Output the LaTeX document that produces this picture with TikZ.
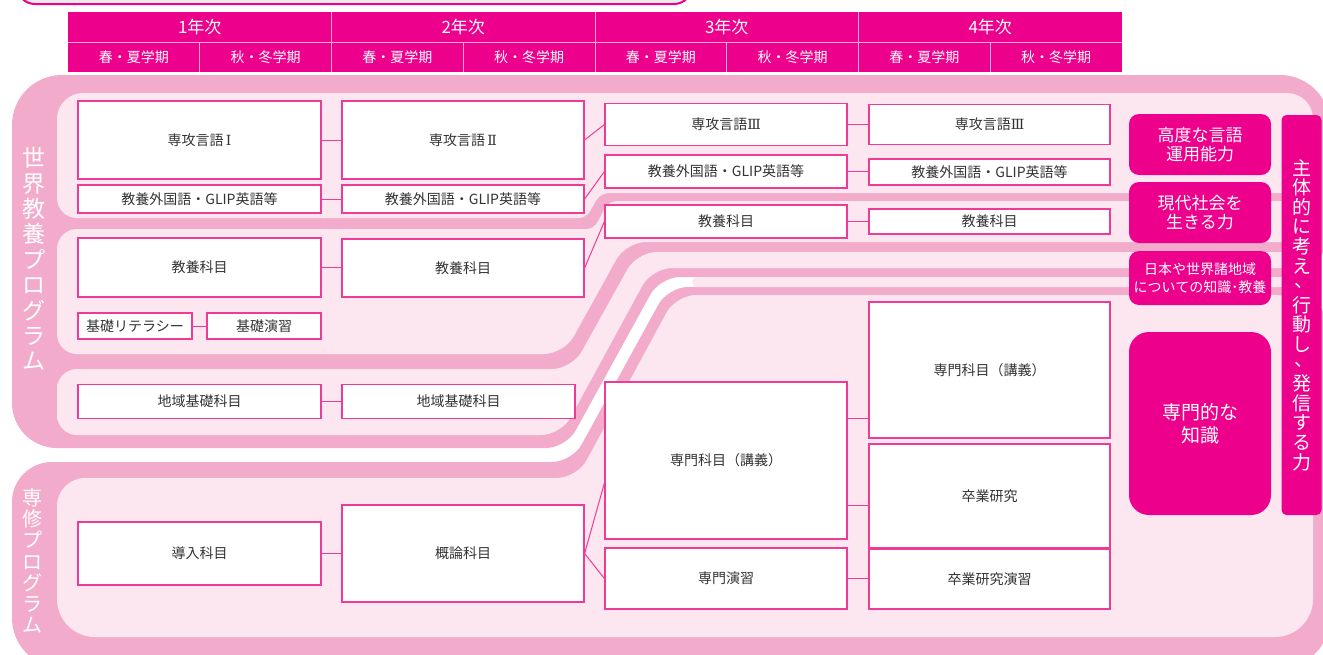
\documentclass[tikz,border=0pt]{standalone}
\usepackage{fontspec}
\setmainfont{Noto Sans CJK JP}
\newfontfamily\romanfont{DejaVu Serif}
\usetikzlibrary{positioning,calc}

\definecolor{mag}{HTML}{EC008C}
\definecolor{boxline}{HTML}{EE3B95}
\definecolor{bandpink}{HTML}{F3ABCB}
\definecolor{panelpink}{HTML}{FCE7F1}
\definecolor{hdrline}{HTML}{F7A9D0}
\definecolor{textgray}{HTML}{333333}

\newcommand{\vcomma}{\raisebox{5pt}{\hspace{4pt}、}}

\begin{document}
\begin{tikzpicture}[
    x=1pt, y=-1pt,
    subject/.style = {rectangle, draw=boxline, fill=white, line width=1.2pt, inner sep=0pt, text=textgray, font=\fontsize{14}{16}\selectfont},
    skill/.style = {rectangle, fill=mag, rounded corners=10pt, minimum width=142pt, inner sep=0pt, text=white, align=center},
    yearcell/.style = {rectangle, fill=mag, minimum width=263.5pt, minimum height=30pt, inner sep=0pt, outer sep=0pt, text=white, font=\fontsize{17}{19}\selectfont},
    termcell/.style = {rectangle, fill=mag, minimum width=131.75pt, minimum height=30pt, inner sep=0pt, outer sep=0pt, text=white, font=\fontsize{14}{16}\selectfont},
    vlabel/.style = {inner sep=0pt, text=white, align=center},
    link/.style = {draw=boxline, line width=1pt},
    hdrdiv/.style = {draw=hdrline, line width=1pt},
    outerfill/.style = {fill=bandpink},
    panelfill/.style = {fill=panelpink}
]
    \useasboundingbox (0,0) rectangle (1323,654);
    \clip (0,0) rectangle (1323,654);

    % box cut off at the top
    \draw[draw=mag, fill=black!8, line width=2pt, rounded corners=18pt] (17,-40) rectangle (692,4);

    % Header
    \foreach \i in {1,...,4} {
        \node[yearcell] (year\i) at ({68+263.5*(\i-0.5)},27) {{\i}年次};
        \node[termcell] (spring\i) at ({68+263.5*(\i-1)+65.875},57) {春・夏学期};
        \node[termcell] (autumn\i) at ({68+263.5*(\i-1)+197.625},57) {秋・冬学期};
    }
    \draw[hdrdiv] (spring1.north west) -- (autumn4.north east);
    \foreach \i in {1,...,4} \draw[hdrdiv] (spring\i.north east) -- (spring\i.south east);
    \foreach \i in {1,2,3} \draw[hdrdiv] (year\i.north east) -- (autumn\i.south east);

    % Programme areas
    \fill[outerfill] (12,300) [rounded corners=45pt] -- (12,448) -- (300,448) [rounded corners=20pt] -- (566,448) -- (660,277) -- (1000,277) [rounded corners=50pt] -- (1330,277) -- (1330,75) -- (12,75) -- cycle;
    \fill[outerfill] (12,560) [rounded corners=40pt] -- (12,462) -- (300,462) [rounded corners=20pt] -- (572,462) -- (668,287) -- (1000,287) [rounded corners=50pt] -- (1330,287) -- (1330,668) -- (12,668) -- cycle;

    \fill[panelfill] (57,150) [rounded corners=20pt] -- (57,218) -- (300,218) [sharp corners] -- (578,218) .. controls (596,218) and (590,193) .. (610,193) -- (900,193) [rounded corners=26pt] -- (1313,193) -- (1313,93) -- (57,93) -- cycle;
    \fill[panelfill] (57,300) [rounded corners=20pt] -- (57,354) -- (564,354) -- (626,242) -- (900,242) -- (1310,242) -- (1310,201) -- (900,201) [sharp corners] -- (618,201) .. controls (598,201) and (604,229) .. (586,229) -- (300,229) [rounded corners=20pt] -- (57,229) -- cycle;
    \fill[panelfill] (57,400) [rounded corners=20pt] -- (57,435) -- (561,435) -- (652,268) -- (1000,268) [sharp corners] -- (1310,268) -- (1310,252) -- (1000,252) [rounded corners=20pt] -- (637,252) -- (572,369) -- (57,369) -- cycle;
    \fill[panelfill, rounded corners=5pt] (692,277) rectangle (1310,287);
    \fill[panelfill] (57,550) [rounded corners=28pt] -- (57,478) -- (300,478) [rounded corners=20pt] -- (577,478) -- (676,295) -- (1000,295) [rounded corners=38pt] -- (1313,295) -- (1313,637) -- (57,637) -- cycle;

    \node[vlabel, font=\fontsize{23}{25.4}\selectfont] (worldlabel) at (34,259) {世\\界\\教\\養\\プ\\ロ\\グ\\ラ\\ム};
    \node[vlabel, font=\fontsize{20}{21.3}\selectfont] (majorlabel) at (32,561) {専\\修\\プ\\ロ\\グ\\ラ\\ム};

    % Abilities
    \node[skill, minimum height=61pt, font=\fontsize{17}{19}\selectfont] (lingua) at (1200,144.5) {高度な言語\\運用能力};
    \node[skill, minimum height=61pt, font=\fontsize{17}{19}\selectfont] (society) at (1200,212.5) {現代社会を\\生きる力};
    \node[skill, minimum height=54pt, font=\fontsize{14}{18}\selectfont] (regions) at (1200,278) {日本や世界諸地域\\についての知識･教養};
    \node[skill, minimum height=183pt, rounded corners=20pt, font=\fontsize{19}{23}\selectfont] (expertise) at (1200,423.5) {専門的な\\知識};
    \node[skill, minimum width=40pt, minimum height=400pt, rounded corners=5pt, font=\fontsize{19}{19.6}\selectfont] (motto) at (1301.5,315) {主\\体\\的\\に\\考\\え\\\vcomma\\行\\動\\し\\\vcomma\\発\\信\\す\\る\\力};

    % Subjects, year 1 and 2
    \node[subject, minimum width=243pt, minimum height=78pt] (lang1) at (199.5,140) {専攻言語\,{\romanfont Ⅰ}};
    \node[subject, minimum width=242pt, minimum height=78pt] (lang2) at (463,140) {専攻言語\,{\romanfont Ⅱ}};
    \node[subject, minimum width=243pt, minimum height=28pt] (glip1) at (199.5,199) {教養外国語・GLIP英語等};
    \node[subject, minimum width=242pt, minimum height=28pt] (glip2) at (463,199) {教養外国語・GLIP英語等};
    \node[subject, minimum width=243pt, minimum height=59pt] (lib1) at (199.5,267.5) {教養科目};
    \node[subject, minimum width=242pt, minimum height=58pt] (lib2) at (463,268) {教養科目};
    \node[subject, minimum width=114pt, minimum height=26pt] (literacy) at (135,326) {基礎リテラシー};
    \node[subject, minimum width=114pt, minimum height=26pt] (basicsem) at (264,326) {基礎演習};
    \node[subject, minimum width=243pt, minimum height=34pt] (area1) at (199.5,401.5) {地域基礎科目};
    \node[subject, minimum width=233pt, minimum height=34pt] (area2) at (458.5,401.5) {地域基礎科目};
    \node[subject, minimum width=243pt, minimum height=63pt] (intro) at (199.5,553.5) {導入科目};
    \node[subject, minimum width=242pt, minimum height=97pt] (gairon) at (463,553.5) {概論科目};

    % Subjects, year 3 and 4
    \node[subject, minimum width=242pt, minimum height=42pt] (lang3) at (726,124.5) {専攻言語{\romanfont Ⅲ}};
    \node[subject, minimum width=241pt, minimum height=40pt] (lang4) at (989.5,124.5) {専攻言語{\romanfont Ⅲ}};
    \node[subject, minimum width=242pt, minimum height=33pt] (glip3) at (726,171.5) {教養外国語・GLIP英語等};
    \node[subject, minimum width=241pt, minimum height=26pt] (glip4) at (989.5,172) {教養外国語・GLIP英語等};
    \node[subject, minimum width=242pt, minimum height=33pt] (lib3) at (726,221.5) {教養科目};
    \node[subject, minimum width=241pt, minimum height=25pt] (lib4) at (989.5,221.5) {教養科目};
    \node[subject, minimum width=242pt, minimum height=157pt] (spec3) at (726,460.5) {専門科目（講義）};
    \node[subject, minimum width=242pt, minimum height=61pt] (seminar) at (726,578.5) {専門演習};
    \node[subject, minimum width=241pt, minimum height=136pt] (spec4) at (989.5,370) {専門科目（講義）};
    \node[subject, minimum width=241pt, minimum height=104pt] (thesis) at (989.5,496) {卒業研究};
    \node[subject, minimum width=241pt, minimum height=60pt] (thesissem) at (989.5,579) {卒業研究演習};

    % Links
    \draw[link] (lang1.east) -- (lang1.east -| lang2.west);
    \draw[link] (glip1.east) -- (glip1.east -| glip2.west);
    \draw[link] (lib1.east) -- (lib1.east -| lib2.west);
    \draw[link] (literacy.east) -- (basicsem.west);
    \draw[link] (area1.east) -- (area1.east -| area2.west);
    \draw[link] (intro.east) -- (intro.east -| gairon.west);
    \draw[link] (lang2.east) -- (lang3.west);
    \draw[link] (glip2.east) -- (glip3.west);
    \draw[link] (lib2.east) -- (lib3.west);
    \draw[link] (lang3.east) -- (lang3.east -| lang4.west);
    \draw[link] (glip3.east) -- (glip3.east -| glip4.west);
    \draw[link] (lib3.east) -- (lib3.east -| lib4.west);
    \draw[link] (gairon.east) -- ([yshift=-22.5pt]spec3.west);
    \draw[link] (gairon.east) -- (seminar.west);
    \coordinate (spec3upper) at ([yshift=42.5pt]spec3.east);
    \coordinate (spec3lower) at ([yshift=-44.5pt]spec3.east);
    \draw[link] (spec3upper) -- (spec3upper -| spec4.west);
    \draw[link] (spec3lower) -- (spec3lower -| thesis.west);
    \draw[link] (seminar.east) -- (seminar.east -| thesissem.west);
\end{tikzpicture}
\end{document}
